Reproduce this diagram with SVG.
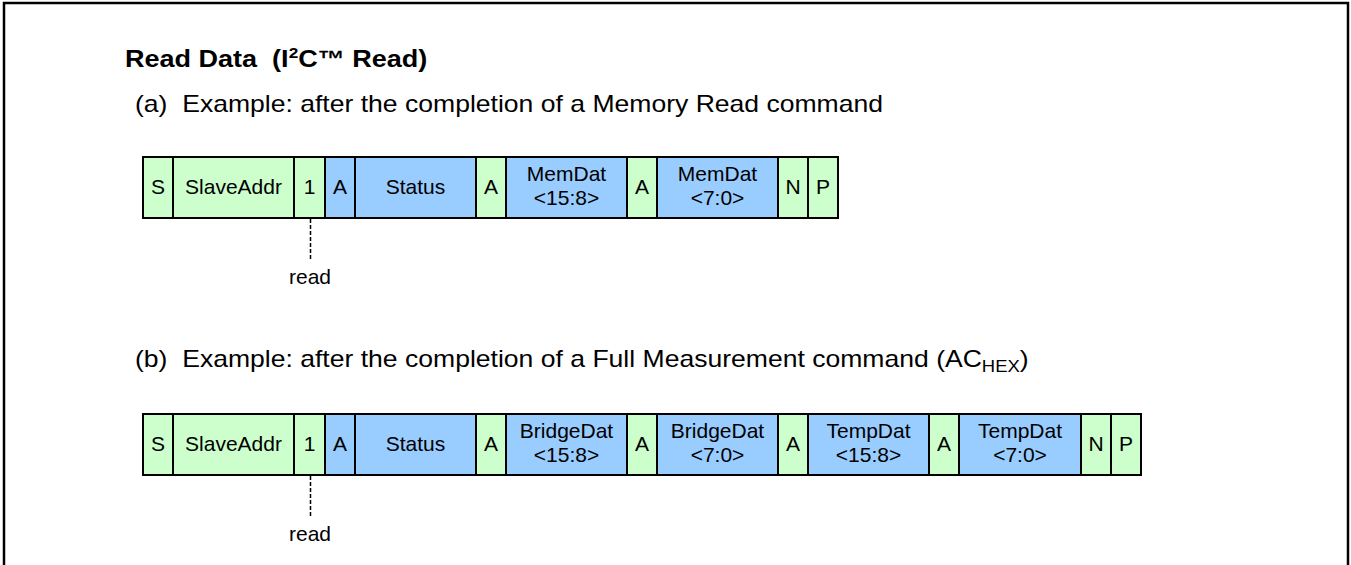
<svg xmlns="http://www.w3.org/2000/svg" width="1351" height="565" viewBox="0 0 1351 565">
<style>
text{font-family:"Liberation Sans",Arial,sans-serif;fill:#000;white-space:pre}
.t{font-size:23.5px;font-weight:bold}
.h{font-size:23px}
.c{font-size:21px;text-anchor:middle}
.g{fill:#CCFFCC;stroke:#000;stroke-width:2}
.b{fill:#99CCFF;stroke:#000;stroke-width:2}
.d{stroke:#000;stroke-width:1.5;stroke-dasharray:4,2;fill:none}
</style>
<rect x="4" y="3" width="1344" height="620" fill="#fff" stroke="#000" stroke-width="2.5"/>
<text class="t" transform="translate(125,67) scale(1.15,1)">Read Data  (I<tspan font-size="15" dy="-9">2</tspan><tspan dy="9">C™ Read)</tspan></text>
<text class="h" transform="translate(135,112) scale(1.155,1)">(a)  Example: after the completion of a Memory Read command</text>
<text class="h" transform="translate(135,367) scale(1.155,1)">(b)  Example: after the completion of a Full Measurement command (AC<tspan font-size="16" dy="5">HEX</tspan><tspan dy="-5">)</tspan></text>
<g id="rowA">
<g id="a-S"><rect class="g" x="143" y="157" width="30" height="61"/><text class="c" x="158" y="194">S</text></g>
<g id="a-SlaveAddr"><rect class="g" x="173" y="157" width="121" height="61"/><text class="c" x="233.5" y="194">SlaveAddr</text></g>
<g id="a-1"><rect class="g" x="294" y="157" width="31" height="61"/><text class="c" x="309.5" y="194">1</text></g>
<g id="a-A1"><rect class="b" x="325" y="157" width="30" height="61"/><text class="c" x="340" y="194">A</text></g>
<g id="a-Status"><rect class="b" x="355" y="157" width="121" height="61"/><text class="c" x="415.5" y="194">Status</text></g>
<g id="a-A2"><rect class="g" x="476" y="157" width="30" height="61"/><text class="c" x="491" y="194">A</text></g>
<g id="a-Mem1"><rect class="b" x="506" y="157" width="121" height="61"/><text class="c" x="566.5" y="181">MemDat</text><text class="c" x="566.5" y="205">&lt;15:8&gt;</text></g>
<g id="a-A3"><rect class="g" x="627" y="157" width="30" height="61"/><text class="c" x="642" y="194">A</text></g>
<g id="a-Mem2"><rect class="b" x="657" y="157" width="121" height="61"/><text class="c" x="717.5" y="181">MemDat</text><text class="c" x="717.5" y="205">&lt;7:0&gt;</text></g>
<g id="a-N"><rect class="g" x="778" y="157" width="30" height="61"/><text class="c" x="793" y="194">N</text></g>
<g id="a-P"><rect class="g" x="808" y="157" width="30" height="61"/><text class="c" x="823" y="194">P</text></g>
</g>
<g id="rowB">
<g id="b-S"><rect class="g" x="143" y="414" width="30" height="61"/><text class="c" x="158" y="451">S</text></g>
<g id="b-SlaveAddr"><rect class="g" x="173" y="414" width="121" height="61"/><text class="c" x="233.5" y="451">SlaveAddr</text></g>
<g id="b-1"><rect class="g" x="294" y="414" width="31" height="61"/><text class="c" x="309.5" y="451">1</text></g>
<g id="b-A1"><rect class="b" x="325" y="414" width="30" height="61"/><text class="c" x="340" y="451">A</text></g>
<g id="b-Status"><rect class="b" x="355" y="414" width="121" height="61"/><text class="c" x="415.5" y="451">Status</text></g>
<g id="b-A2"><rect class="g" x="476" y="414" width="30" height="61"/><text class="c" x="491" y="451">A</text></g>
<g id="b-Br1"><rect class="b" x="506" y="414" width="121" height="61"/><text class="c" x="566.5" y="438">BridgeDat</text><text class="c" x="566.5" y="462">&lt;15:8&gt;</text></g>
<g id="b-A3"><rect class="g" x="627" y="414" width="30" height="61"/><text class="c" x="642" y="451">A</text></g>
<g id="b-Br2"><rect class="b" x="657" y="414" width="121" height="61"/><text class="c" x="717.5" y="438">BridgeDat</text><text class="c" x="717.5" y="462">&lt;7:0&gt;</text></g>
<g id="b-A4"><rect class="g" x="778" y="414" width="30" height="61"/><text class="c" x="793" y="451">A</text></g>
<g id="b-T1"><rect class="b" x="808" y="414" width="121" height="61"/><text class="c" x="868.5" y="438">TempDat</text><text class="c" x="868.5" y="462">&lt;15:8&gt;</text></g>
<g id="b-A5"><rect class="g" x="929" y="414" width="30" height="61"/><text class="c" x="944" y="451">A</text></g>
<g id="b-T2"><rect class="b" x="959" y="414" width="122" height="61"/><text class="c" x="1020" y="438">TempDat</text><text class="c" x="1020" y="462">&lt;7:0&gt;</text></g>
<g id="b-N"><rect class="g" x="1081" y="414" width="30" height="61"/><text class="c" x="1096" y="451">N</text></g>
<g id="b-P"><rect class="g" x="1111" y="414" width="30" height="61"/><text class="c" x="1126" y="451">P</text></g>
</g>
<g id="connectors">
<line class="d" x1="310.5" y1="219" x2="310.5" y2="261"/>
<line class="d" x1="310.5" y1="476" x2="310.5" y2="518"/>
</g>
<g id="labels">
<text class="c" x="310" y="284">read</text>
<text class="c" x="310" y="541">read</text>
</g>
</svg>
